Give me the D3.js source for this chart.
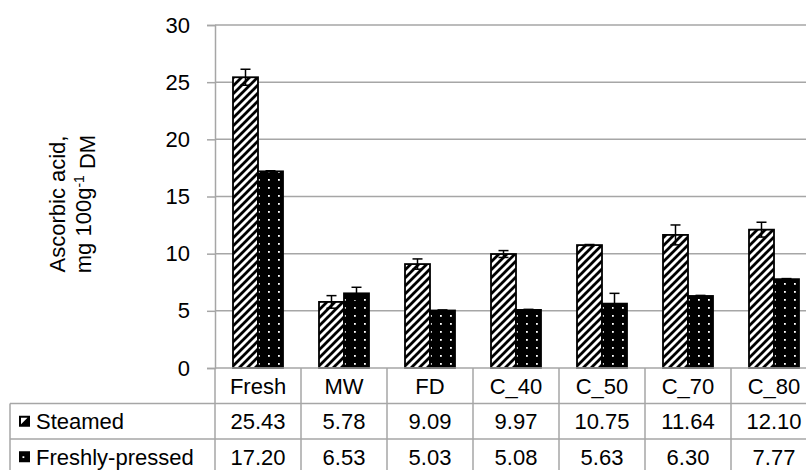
<!DOCTYPE html>
<html>
<head>
<meta charset="utf-8">
<script src="https://cdn.jsdelivr.net/npm/d3@7"></script>
<style>
  body { margin: 0; background: #fff; }
  svg { display: block; font-family: "Liberation Sans", Arial, sans-serif; }
</style>
</head>
<body>
<svg width="806" height="470"></svg>
<script>
const categories = ["Fresh", "MW", "FD", "C_40", "C_50", "C_70", "C_80"];
const seriesNames = ["Steamed", "Freshly-pressed"];
const steamed = [25.43, 5.78, 9.09, 9.97, 10.75, 11.64, 12.10];
const freshlyPressed = [17.20, 6.53, 5.03, 5.08, 5.63, 6.30, 7.77];
const steamedErr = [0.7, 0.55, 0.45, 0.3, 0.05, 0.87, 0.65];
const pressedErr = [0.05, 0.53, 0.05, 0.05, 0.9, 0.05, 0.05];
const yTicks = [0, 5, 10, 15, 20, 25, 30];

const svg = d3.select("svg"),
    plotLeft = 215, plotTop = 25, plotBottom = 368,
    step = 86,
    plotRight = plotLeft + step * categories.length,
    rowH = 35.5,
    fontSize = 22,
    gridColor = "#a6a6a6";

const x = d3.scaleBand().domain(categories).range([plotLeft, plotRight]).paddingInner(0).paddingOuter(0);
const xs = d3.scaleBand().domain(seriesNames).range([0, x.bandwidth()]).paddingInner(0).paddingOuter(0.72);
const y = d3.scaleLinear().domain([0, 30]).range([plotBottom, plotTop]);

// patterns
const defs = svg.append("defs");
const hatch = defs.append("pattern")
    .attr("id", "hatch").attr("patternUnits", "userSpaceOnUse")
    .attr("width", 8).attr("height", 8);
hatch.append("rect").attr("width", 8).attr("height", 8).attr("fill", "#fff");
hatch.append("path")
    .attr("d", "M-2,10 L10,-2 M-4,4 L4,-4 M4,12 L12,4")
    .attr("stroke", "#000").attr("stroke-width", 2.8);

const dots = defs.append("pattern")
    .attr("id", "dots").attr("patternUnits", "userSpaceOnUse")
    .attr("width", 10).attr("height", 8);
dots.append("rect").attr("width", 10).attr("height", 8).attr("fill", "#000");
dots.append("rect").attr("x", 3).attr("y", 3).attr("width", 1.8).attr("height", 1.8).attr("fill", "#fff");

// gridlines
svg.append("g")
    .selectAll("line")
    .data(yTicks.filter(d => d > 0))
    .enter().append("line")
    .attr("x1", plotLeft).attr("x2", plotRight)
    .attr("y1", d => y(d)).attr("y2", d => y(d))
    .attr("stroke", gridColor).attr("stroke-width", 1.5);

// y axis
const yAxis = svg.append("g")
    .attr("transform", `translate(${plotLeft},0)`)
    .call(d3.axisLeft(y).tickValues(yTicks).tickSize(8).tickPadding(17));
yAxis.select(".domain").attr("stroke", gridColor).attr("stroke-width", 1.5);
yAxis.selectAll(".tick line").attr("stroke", gridColor).attr("stroke-width", 1.5);
yAxis.selectAll("text").attr("fill", "#000").style("font-size", fontSize + "px").style("font-family", "Liberation Sans, Arial, sans-serif");

// y axis title
const title = svg.append("text")
    .attr("transform", "translate(57,204) rotate(-90)")
    .attr("text-anchor", "middle")
    .style("font-size", fontSize + "px");
title.append("tspan").attr("x", 0).attr("dy", "0.35em").text("Ascorbic acid,");
const l2 = title.append("tspan").attr("x", 0).attr("dy", "1.2em");
l2.append("tspan").text("mg 100g");
l2.append("tspan").attr("dy", "-0.5em").style("font-size", "14px").text("-1");
l2.append("tspan").attr("dy", "0.5em").text(" DM");

// bars
const groups = svg.append("g").selectAll("g")
    .data(categories)
    .enter().append("g")
    .attr("transform", d => `translate(${x(d)},0)`);

const barData = (c, i) => [
    {s: "Steamed", v: steamed[i], e: steamedErr[i], fill: "url(#hatch)"},
    {s: "Freshly-pressed", v: freshlyPressed[i], e: pressedErr[i], fill: "url(#dots)"}
];

groups.selectAll("rect")
    .data((c, i) => barData(c, i))
    .enter().append("rect")
    .attr("x", d => xs(d.s))
    .attr("y", d => y(d.v))
    .attr("width", xs.bandwidth())
    .attr("height", d => y(0) - y(d.v))
    .attr("fill", d => d.fill)
    .attr("stroke", "#000")
    .attr("stroke-width", 1.8);

// error bars
const eb = groups.selectAll("g.err")
    .data((c, i) => barData(c, i))
    .enter().append("g").attr("class", "err")
    .attr("stroke", "#000").attr("stroke-width", 1.5);
eb.append("line")
    .attr("x1", d => xs(d.s) + xs.bandwidth() / 2).attr("x2", d => xs(d.s) + xs.bandwidth() / 2)
    .attr("y1", d => y(d.v - d.e)).attr("y2", d => y(d.v + d.e));
eb.append("line")
    .attr("x1", d => xs(d.s) + xs.bandwidth() / 2 - 5).attr("x2", d => xs(d.s) + xs.bandwidth() / 2 + 5)
    .attr("y1", d => y(d.v + d.e)).attr("y2", d => y(d.v + d.e));
eb.append("line")
    .attr("x1", d => xs(d.s) + xs.bandwidth() / 2 - 5).attr("x2", d => xs(d.s) + xs.bandwidth() / 2 + 5)
    .attr("y1", d => y(d.v - d.e)).attr("y2", d => y(d.v - d.e));

// data table
const table = svg.append("g").attr("stroke", gridColor).attr("stroke-width", 1.5);
const tableLeft = 10;
const tableBottom = plotBottom + rowH * 3;
table.append("line").attr("x1", plotLeft).attr("x2", plotRight).attr("y1", plotBottom).attr("y2", plotBottom);
[1, 2, 3].forEach(r => {
    table.append("line").attr("x1", tableLeft).attr("x2", plotRight)
        .attr("y1", plotBottom + rowH * r).attr("y2", plotBottom + rowH * r);
});
table.append("line").attr("x1", tableLeft).attr("x2", tableLeft)
    .attr("y1", plotBottom + rowH).attr("y2", tableBottom);
table.selectAll("line.col")
    .data(categories.concat(["end"]))
    .enter().append("line").attr("class", "col")
    .attr("x1", (d, i) => plotLeft + i * step).attr("x2", (d, i) => plotLeft + i * step)
    .attr("y1", plotBottom).attr("y2", tableBottom);

const txt = svg.append("g").style("font-size", fontSize + "px").attr("text-anchor", "middle");
txt.selectAll("text.cat")
    .data(categories)
    .enter().append("text")
    .attr("x", d => x(d) + x.bandwidth() / 2)
    .attr("y", plotBottom + rowH / 2)
    .attr("dy", "0.36em")
    .text(d => d);
txt.selectAll("text.st")
    .data(steamed)
    .enter().append("text")
    .attr("x", (d, i) => x(categories[i]) + x.bandwidth() / 2)
    .attr("y", plotBottom + rowH * 1.5)
    .attr("dy", "0.36em")
    .text(d => d.toFixed(2));
txt.selectAll("text.fp")
    .data(freshlyPressed)
    .enter().append("text")
    .attr("x", (d, i) => x(categories[i]) + x.bandwidth() / 2)
    .attr("y", plotBottom + rowH * 2.5)
    .attr("dy", "0.36em")
    .text(d => d.toFixed(2));

// legend keys in table
const keys = svg.append("g");
seriesNames.forEach((name, i) => {
    const cy = plotBottom + rowH * (1.5 + i);
    const k = keys.append("g").attr("transform", `translate(19,${cy - 5.5})`);
    k.append("rect").attr("width", 11).attr("height", 11).attr("fill", "#000");
    if (i === 0) {
        k.append("path").attr("d", "M2,2 L8.5,2 L2,8.5 Z").attr("fill", "#fff");
    } else {
        k.append("rect").attr("x", 3.5).attr("y", 5).attr("width", 1.8).attr("height", 1.8).attr("fill", "#fff");
    }
    keys.append("text")
        .attr("x", 36).attr("y", cy).attr("dy", "0.36em")
        .style("font-size", fontSize + "px")
        .text(name);
});
</script>
</body>
</html>
